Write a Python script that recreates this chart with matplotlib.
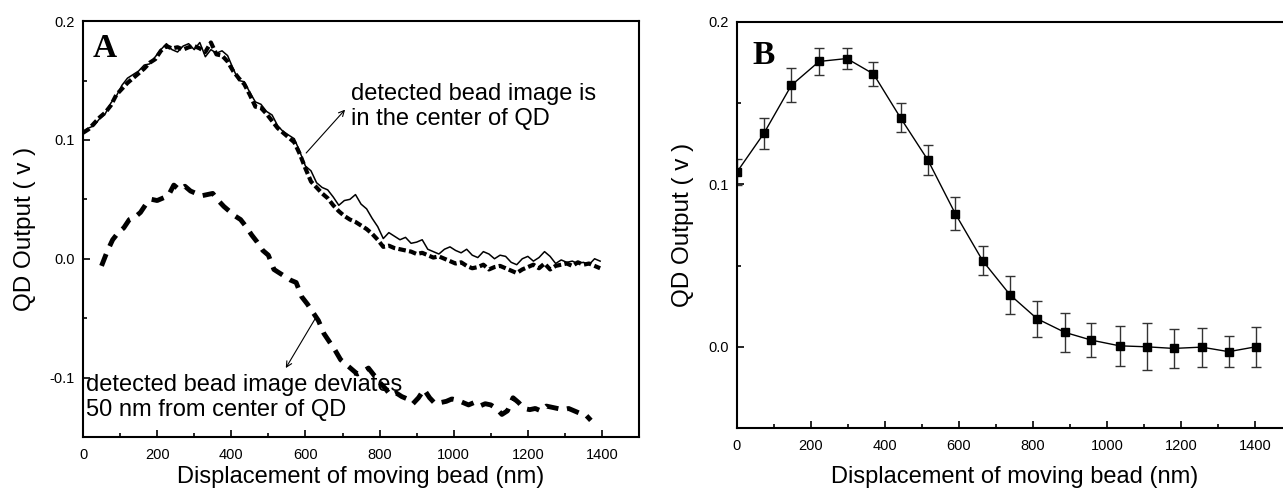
import numpy as np
import matplotlib
matplotlib.use('Agg')
import matplotlib.pyplot as plt
from matplotlib.ticker import MultipleLocator, FixedLocator, FixedFormatter

plt.rcParams['font.family'] = ['Liberation Sans', 'DejaVu Sans']
plt.rcParams['axes.unicode_minus'] = False

# panel A: QD output traces (x in nm, y in V)
xCenter = np.arange(0, 1400, 15)
yCenterSolid = [
    0.107, 0.110, 0.112, 0.118, 0.122, 0.131, 0.137, 0.146, 0.152, 0.155,
    0.158, 0.163, 0.164, 0.170, 0.176, 0.181, 0.176, 0.174, 0.179, 0.181,
    0.176, 0.182, 0.170, 0.176, 0.173, 0.175, 0.171, 0.160, 0.150, 0.149,
    0.140, 0.132, 0.130, 0.124, 0.121, 0.112, 0.107, 0.104, 0.101, 0.090,
    0.078, 0.074, 0.064, 0.060, 0.058, 0.052, 0.045, 0.049, 0.050, 0.054,
    0.046, 0.042, 0.034, 0.027, 0.017, 0.022, 0.019, 0.016, 0.018, 0.013,
    0.014, 0.016, 0.008, 0.006, 0.004, 0.008, 0.010, 0.007, 0.005, 0.008,
    0.003, 0.001, 0.006, 0.004, 0.000, 0.003, 0.002, -0.003, -0.005, 0.000,
    0.002, -0.002, 0.001, 0.006, 0.002, -0.004, -0.001, -0.003, -0.002, -0.004,
    -0.003, -0.005, 0.000, -0.002]
yCenterDashed = [
    0.106, 0.109, 0.114, 0.119, 0.123, 0.129, 0.138, 0.143, 0.148, 0.152,
    0.156, 0.160, 0.165, 0.168, 0.175, 0.179, 0.177, 0.178, 0.176, 0.178,
    0.179, 0.177, 0.174, 0.182, 0.172, 0.171, 0.166, 0.158, 0.152, 0.147,
    0.138, 0.128, 0.127, 0.122, 0.116, 0.110, 0.106, 0.102, 0.098, 0.088,
    0.076, 0.065, 0.060, 0.055, 0.051, 0.045, 0.040, 0.036, 0.033, 0.031,
    0.028, 0.025, 0.021, 0.016, 0.010, 0.011, 0.009, 0.008, 0.007, 0.006,
    0.004, 0.005, 0.003, 0.001, 0.002, 0.000, -0.002, -0.004, -0.003, -0.006,
    -0.008, -0.007, -0.005, -0.009, -0.007, -0.006, -0.008, -0.010, -0.012, -0.009,
    -0.007, -0.005, -0.008, -0.004, -0.009, -0.006, -0.005, -0.004, -0.006, -0.003,
    -0.005, -0.004, -0.006, -0.008]

xDeviated = np.arange(50, 1371, 15)
yDeviated = [
    -0.006, 0.006, 0.016, 0.022, 0.026, 0.033, 0.035, 0.039, 0.046, 0.050,
    0.049, 0.051, 0.053, 0.062, 0.058, 0.061, 0.057, 0.055, 0.053, 0.054,
    0.055, 0.049, 0.044, 0.040, 0.036, 0.033, 0.027, 0.020, 0.014, 0.007,
    0.003, -0.009, -0.012, -0.015, -0.018, -0.020, -0.032, -0.038, -0.045, -0.052,
    -0.063, -0.070, -0.077, -0.085, -0.089, -0.093, -0.097, -0.095, -0.092, -0.098,
    -0.104, -0.109, -0.115, -0.113, -0.116, -0.118, -0.122, -0.117, -0.110, -0.117,
    -0.122, -0.121, -0.120, -0.118, -0.119, -0.121, -0.123, -0.121, -0.124, -0.122,
    -0.123, -0.126, -0.131, -0.128, -0.117, -0.121, -0.126, -0.127, -0.126, -0.128,
    -0.124, -0.125, -0.126, -0.127, -0.126, -0.128, -0.130, -0.131, -0.136]

# panel B: averaged output with error bars
xMean = [0, 73, 147, 222, 297, 369, 442, 516, 590, 664,
         738, 811, 886, 958, 1034, 1108, 1180, 1256, 1329, 1402]
yMean = [0.1076, 0.1315, 0.161, 0.1757, 0.1775, 0.168, 0.141, 0.115, 0.082, 0.053,
         0.032, 0.0173, 0.0089, 0.0041, 0.0006, 0.0, -0.001, -0.0002, -0.003, 0.0]
yErr = [0.008, 0.0095, 0.0105, 0.0085, 0.0065, 0.0075, 0.009, 0.0095, 0.010, 0.009,
        0.0118, 0.011, 0.012, 0.0103, 0.0122, 0.0144, 0.012, 0.012, 0.0096, 0.0125]

xLabel = 'Displacement of moving bead (nm)'
yLabel = 'QD Output ( v )'


def style_axes(ax, yticks, ylabels, ymin, ymax, xpad):
    ax.set_xlim(0, 1500)
    ax.set_ylim(ymin, ymax)
    ax.xaxis.set_major_locator(FixedLocator([0, 200, 400, 600, 800, 1000, 1200, 1400]))
    ax.xaxis.set_minor_locator(MultipleLocator(100))
    ax.yaxis.set_major_locator(FixedLocator(yticks))
    ax.yaxis.set_major_formatter(FixedFormatter(ylabels))
    ax.yaxis.set_minor_locator(MultipleLocator(0.05))
    ax.tick_params(which='both', direction='in', top=False, right=False,
                   labelsize=10.5, width=1.2)
    ax.tick_params(which='major', length=5)
    ax.tick_params(which='minor', length=3)
    ax.tick_params(axis='x', pad=8)
    ax.tick_params(axis='y', pad=6)
    for s in ax.spines.values():
        s.set_linewidth(1.5)
    ax.set_xlabel(xLabel, fontsize=17, labelpad=xpad)
    ax.set_ylabel(yLabel, fontsize=17.5, labelpad=10)


fig = plt.figure(figsize=(12.83, 4.91), dpi=100)

# ---- panel A ----
axA = fig.add_axes([0.0647, 0.110, 0.4334, 0.847])
axA.plot(xCenter, yCenterSolid, color='black', lw=1.1)
axA.plot(xCenter, yCenterDashed, color='black', lw=3.0, linestyle=(0, (1.8, 0.8)))
axA.plot(xDeviated, yDeviated, color='black', lw=3.5, linestyle=(0, (2.6, 1.8)))
style_axes(axA, [-0.1, 0.0, 0.1, 0.2], ['-0.1', '0.0', '0.1', '0.2'], -0.15, 0.2, 3)
axA.text(0.018, 0.913, 'A', transform=axA.transAxes, fontsize=24, fontweight='bold',
         family='Liberation Serif', va='baseline', ha='left')
axA.text(723, 0.128, 'detected bead image is\nin the center of QD',
         fontsize=17, va='center', ha='left')
axA.annotate('', xy=(707, 0.1255), xytext=(602, 0.089),
             arrowprops=dict(arrowstyle='->', color='black', lw=0.8, shrinkA=0, shrinkB=0))
axA.annotate('', xy=(547, -0.092), xytext=(629, -0.049),
             arrowprops=dict(arrowstyle='->', color='black', lw=0.8, shrinkA=0, shrinkB=0))
axA.text(8, -0.117, 'detected bead image deviates\n50 nm from center of QD',
         fontsize=17, va='center', ha='left')

# ---- panel B ----
axB = fig.add_axes([0.5744, 0.1283, 0.4326, 0.8269])
axB.errorbar(xMean, yMean, yerr=yErr, color='black', lw=1.0, marker='s', markersize=6,
             ecolor='#333333', elinewidth=1.0, capsize=3.5, capthick=1.0)
style_axes(axB, [0.0, 0.1, 0.2], ['0.0', '0.1', '0.2'], -0.05, 0.2, 9)
axB.text(0.027, 0.897, 'B', transform=axB.transAxes, fontsize=24, fontweight='bold',
         family='Liberation Serif', va='baseline', ha='left')

fig.savefig('out.png', dpi=100)
